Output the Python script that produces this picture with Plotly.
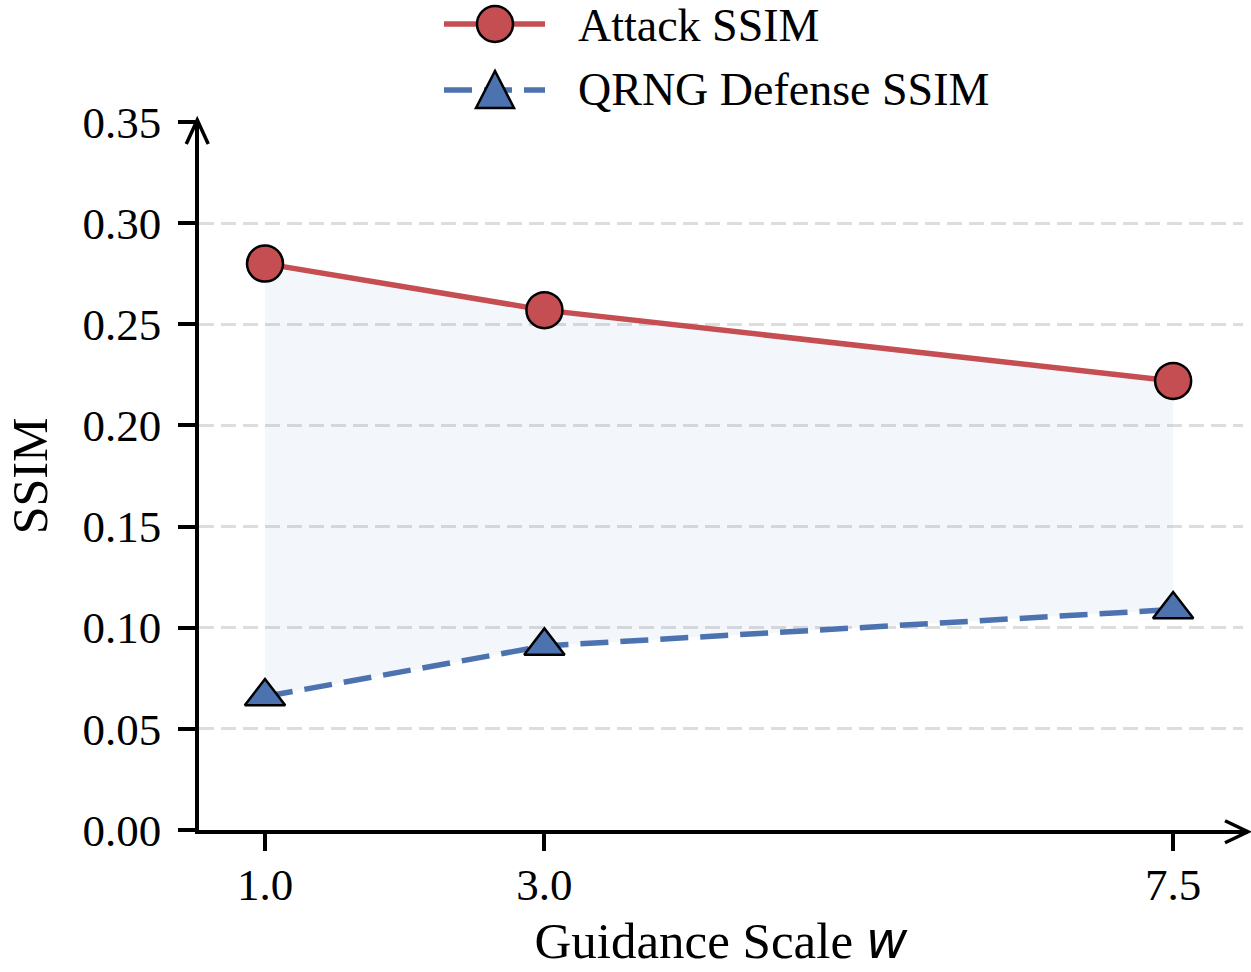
import plotly.graph_objects as go

# ---- data ----
guidance_scale = [1.0, 3.0, 7.5]
attack_ssim = [0.280, 0.257, 0.222]
defense_ssim = [0.066, 0.091, 0.109]
x_tick_labels = ["1.0", "3.0", "7.5"]
y_tick_values = [0.00, 0.05, 0.10, 0.15, 0.20, 0.25, 0.30, 0.35]
y_tick_labels = ["0.00", "0.05", "0.10", "0.15", "0.20", "0.25", "0.30", "0.35"]
series_names = ["Attack SSIM", "QRNG Defense SSIM"]

RED = "#C44E52"
BLUE = "#4C72B0"
SERIF = "Liberation Serif"

fig = go.Figure()

# shaded gap between the two series
fig.add_trace(go.Scatter(x=guidance_scale, y=defense_ssim, mode="lines",
                         line=dict(width=0), showlegend=False, hoverinfo="skip"))
fig.add_trace(go.Scatter(x=guidance_scale, y=attack_ssim, mode="lines",
                         line=dict(width=0), fill="tonexty",
                         fillcolor="rgba(76,114,176,0.065)",
                         showlegend=False, hoverinfo="skip"))

fig.add_trace(go.Scatter(
    x=guidance_scale, y=attack_ssim, mode="lines+markers", name=series_names[0],
    line=dict(color=RED, width=5.5),
    marker=dict(symbol="circle", size=36, color=RED,
                line=dict(color="black", width=2.5))))
fig.add_trace(go.Scatter(
    x=guidance_scale, y=defense_ssim, mode="lines+markers", name=series_names[1],
    line=dict(color=BLUE, width=5.5, dash="28px,12px"),
    marker=dict(symbol="triangle-up", size=35, color=BLUE,
                line=dict(color="black", width=2.5))))

W, H = 1251, 972
ML, MR, MT, MB = 199, 8, 122, 142
PW = W - ML - MR
PH = H - MT - MB


def px_to_paper_x(p):
    return (p - ML) / PW


def px_to_paper_y(p):
    return (H - MB - p) / PH


LW = 3.5
HL = LW / 2
shapes = []
axis_line = dict(color="black", width=LW)
# y axis arrow (top)
shapes.append(dict(type="path", xref="paper", yref="paper",
                   xsizemode="pixel", ysizemode="pixel", xanchor=0, yanchor=1,
                   path=f"M{-HL},0 L{-HL},2", line=axis_line,
                   fillcolor="rgba(0,0,0,0)"))
shapes.append(dict(type="path", xref="paper", yref="paper",
                   xsizemode="pixel", ysizemode="pixel", xanchor=0, yanchor=1,
                   path=f"M{-HL - 11},-22 L{-HL},2 L{-HL + 11},-22", line=axis_line,
                   fillcolor="rgba(0,0,0,0)"))
# x axis arrow (right)
shapes.append(dict(type="path", xref="paper", yref="paper",
                   xsizemode="pixel", ysizemode="pixel", xanchor=1, yanchor=0,
                   path=f"M0,{-HL} L5,{-HL}", line=axis_line,
                   fillcolor="rgba(0,0,0,0)"))
shapes.append(dict(type="path", xref="paper", yref="paper",
                   xsizemode="pixel", ysizemode="pixel", xanchor=1, yanchor=0,
                   path=f"M-18,{-HL + 11} L5,{-HL} L-18,{-HL - 11}", line=axis_line,
                   fillcolor="rgba(0,0,0,0)"))

# manual legend
leg_line_x0 = px_to_paper_x(444)
leg_line_x1 = px_to_paper_x(545)
leg_mark_x = px_to_paper_x(495)
leg_text_x = px_to_paper_x(576)
row_y = [px_to_paper_y(24), px_to_paper_y(90)]
text_y = [px_to_paper_y(26), px_to_paper_y(90)]

shapes.append(dict(type="line", xref="paper", yref="paper",
                   x0=leg_line_x0, x1=leg_line_x1, y0=row_y[0], y1=row_y[0],
                   line=dict(color=RED, width=5.5)))
shapes.append(dict(type="circle", xref="paper", yref="paper",
                   xsizemode="pixel", ysizemode="pixel",
                   xanchor=leg_mark_x, yanchor=row_y[0],
                   x0=-18, x1=18, y0=-18, y1=18,
                   fillcolor=RED, line=dict(color="black", width=2.5)))
shapes.append(dict(type="line", xref="paper", yref="paper",
                   x0=leg_line_x0, x1=leg_line_x1, y0=row_y[1], y1=row_y[1],
                   line=dict(color=BLUE, width=5.5, dash="28px,12px")))
shapes.append(dict(type="path", xref="paper", yref="paper",
                   xsizemode="pixel", ysizemode="pixel",
                   xanchor=leg_mark_x, yanchor=row_y[1],
                   path="M-19,-18 L19,-18 L0,19 Z",
                   fillcolor=BLUE, line=dict(color="black", width=2.5)))

annotations = []
for name, yy in zip(series_names, text_y):
    annotations.append(dict(text=name, xref="paper", yref="paper",
                            x=leg_text_x, y=yy, xanchor="left", yanchor="middle",
                            showarrow=False,
                            font=dict(family=SERIF, size=46, color="black")))

fig.update_layout(
    width=W, height=H,
    margin=dict(l=ML, r=MR, t=MT, b=MB, pad=0, autoexpand=False),
    paper_bgcolor="white", plot_bgcolor="white",
    showlegend=False,
    shapes=shapes, annotations=annotations,
    font=dict(family=SERIF, color="black"),
)

fig.update_xaxes(
    automargin=False,
    range=[0.5275, 8.0], tickvals=guidance_scale, ticktext=x_tick_labels,
    ticks="outside", ticklen=17, tickwidth=LW, tickcolor="black",
    ticklabelstandoff=-5,
    showline=True, linewidth=LW, linecolor="black",
    showgrid=False, zeroline=False,
    tickfont=dict(family=SERIF, size=45, color="black"),
    title=dict(text='Guidance Scale <span style="font-family:DejaVu Sans"><i>w</i></span>',
               font=dict(family=SERIF, size=51, color="black"), standoff=15),
)
fig.update_yaxes(
    automargin=False,
    range=[0, 0.35], tickvals=y_tick_values, ticktext=y_tick_labels,
    ticks="outside", ticklen=17, tickwidth=LW, tickcolor="black",
    ticklabelstandoff=8,
    showline=True, linewidth=LW, linecolor="black",
    showgrid=True, gridcolor="#dddddd", gridwidth=2.5, griddash="15px,7px",
    zeroline=False,
    tickfont=dict(family=SERIF, size=45, color="black"),
    title=dict(text="SSIM", font=dict(family=SERIF, size=50, color="black"),
               standoff=20),
)

# remove the default page margin so the figure fills the window exactly
fig.write_html("out.html",
               config={"displayModeBar": False},
               post_script="document.body.style.margin='0';")
